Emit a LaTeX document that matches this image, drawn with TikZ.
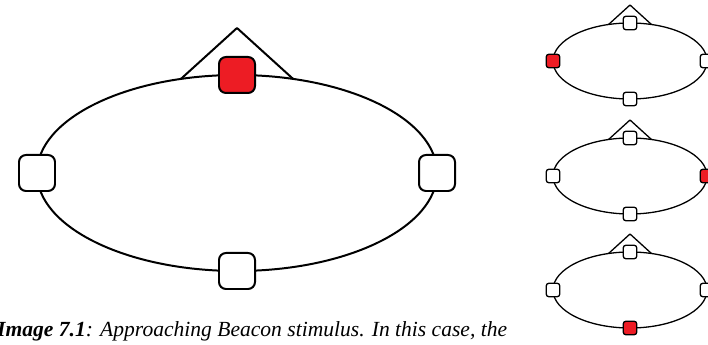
\documentclass[tikz,border=0pt]{standalone}
\usepackage{fontspec}
\setmainfont{Liberation Serif}
\usetikzlibrary{calc}
\definecolor{padred}{HTML}{ED1C24}

\begin{document}
\begin{tikzpicture}[x=0.03cm,y=0.03cm,line join=round,
  bigpad/.style={draw,fill=white,rounded corners=6pt,minimum size=1.08cm,inner sep=0pt,line width=1.7pt},
  smallpad/.style={draw,fill=white,rounded corners=2.5pt,minimum size=0.41cm,inner sep=0pt,line width=1.1pt},
  hot/.style={fill=padred}]
  \clip (0,0) rectangle (708,345);
  % anillo grande
  \begin{scope}[shift={(237,172)},line width=1.7pt]
    \draw (0,0) ellipse (200 and 98);
    \draw (73.7:200 and 98) -- (0,145) -- (106.3:200 and 98);
    \node[bigpad,hot] (btop) at (0,98) {};
    \node[bigpad] (bleft) at (-200,0) {};
    \node[bigpad] (bright) at (200,0) {};
    \node[bigpad] (bbottom) at (0,-98) {};
  \end{scope}
  % tres anillos chicos
  \foreach \cy/\l/\r/\b [count=\i] in {284/padred/white/white,169/white/padred/white,55/white/white/padred}{
    \begin{scope}[shift={(630,\cy)},line width=1.1pt]
      \draw (0,0) ellipse (77 and 38);
      \draw (73.8:77 and 38) -- (0,56) -- (106.2:77 and 38);
      \node[smallpad] (s\i top) at (0,38) {};
      \node[smallpad,fill=\l] (s\i left) at (-77,0) {};
      \node[smallpad,fill=\r] (s\i right) at (77,0) {};
      \node[smallpad,fill=\b] (s\i bottom) at (0,-38) {};
    \end{scope}
  }
  \node[anchor=base west,inner sep=0pt,font=\itshape\fontsize{18.4}{22}\selectfont] (caption) at (-3,8)
    {\textbf{Image 7.1}: Approaching Beacon stimulus. In this case, the};
\end{tikzpicture}
\end{document}
